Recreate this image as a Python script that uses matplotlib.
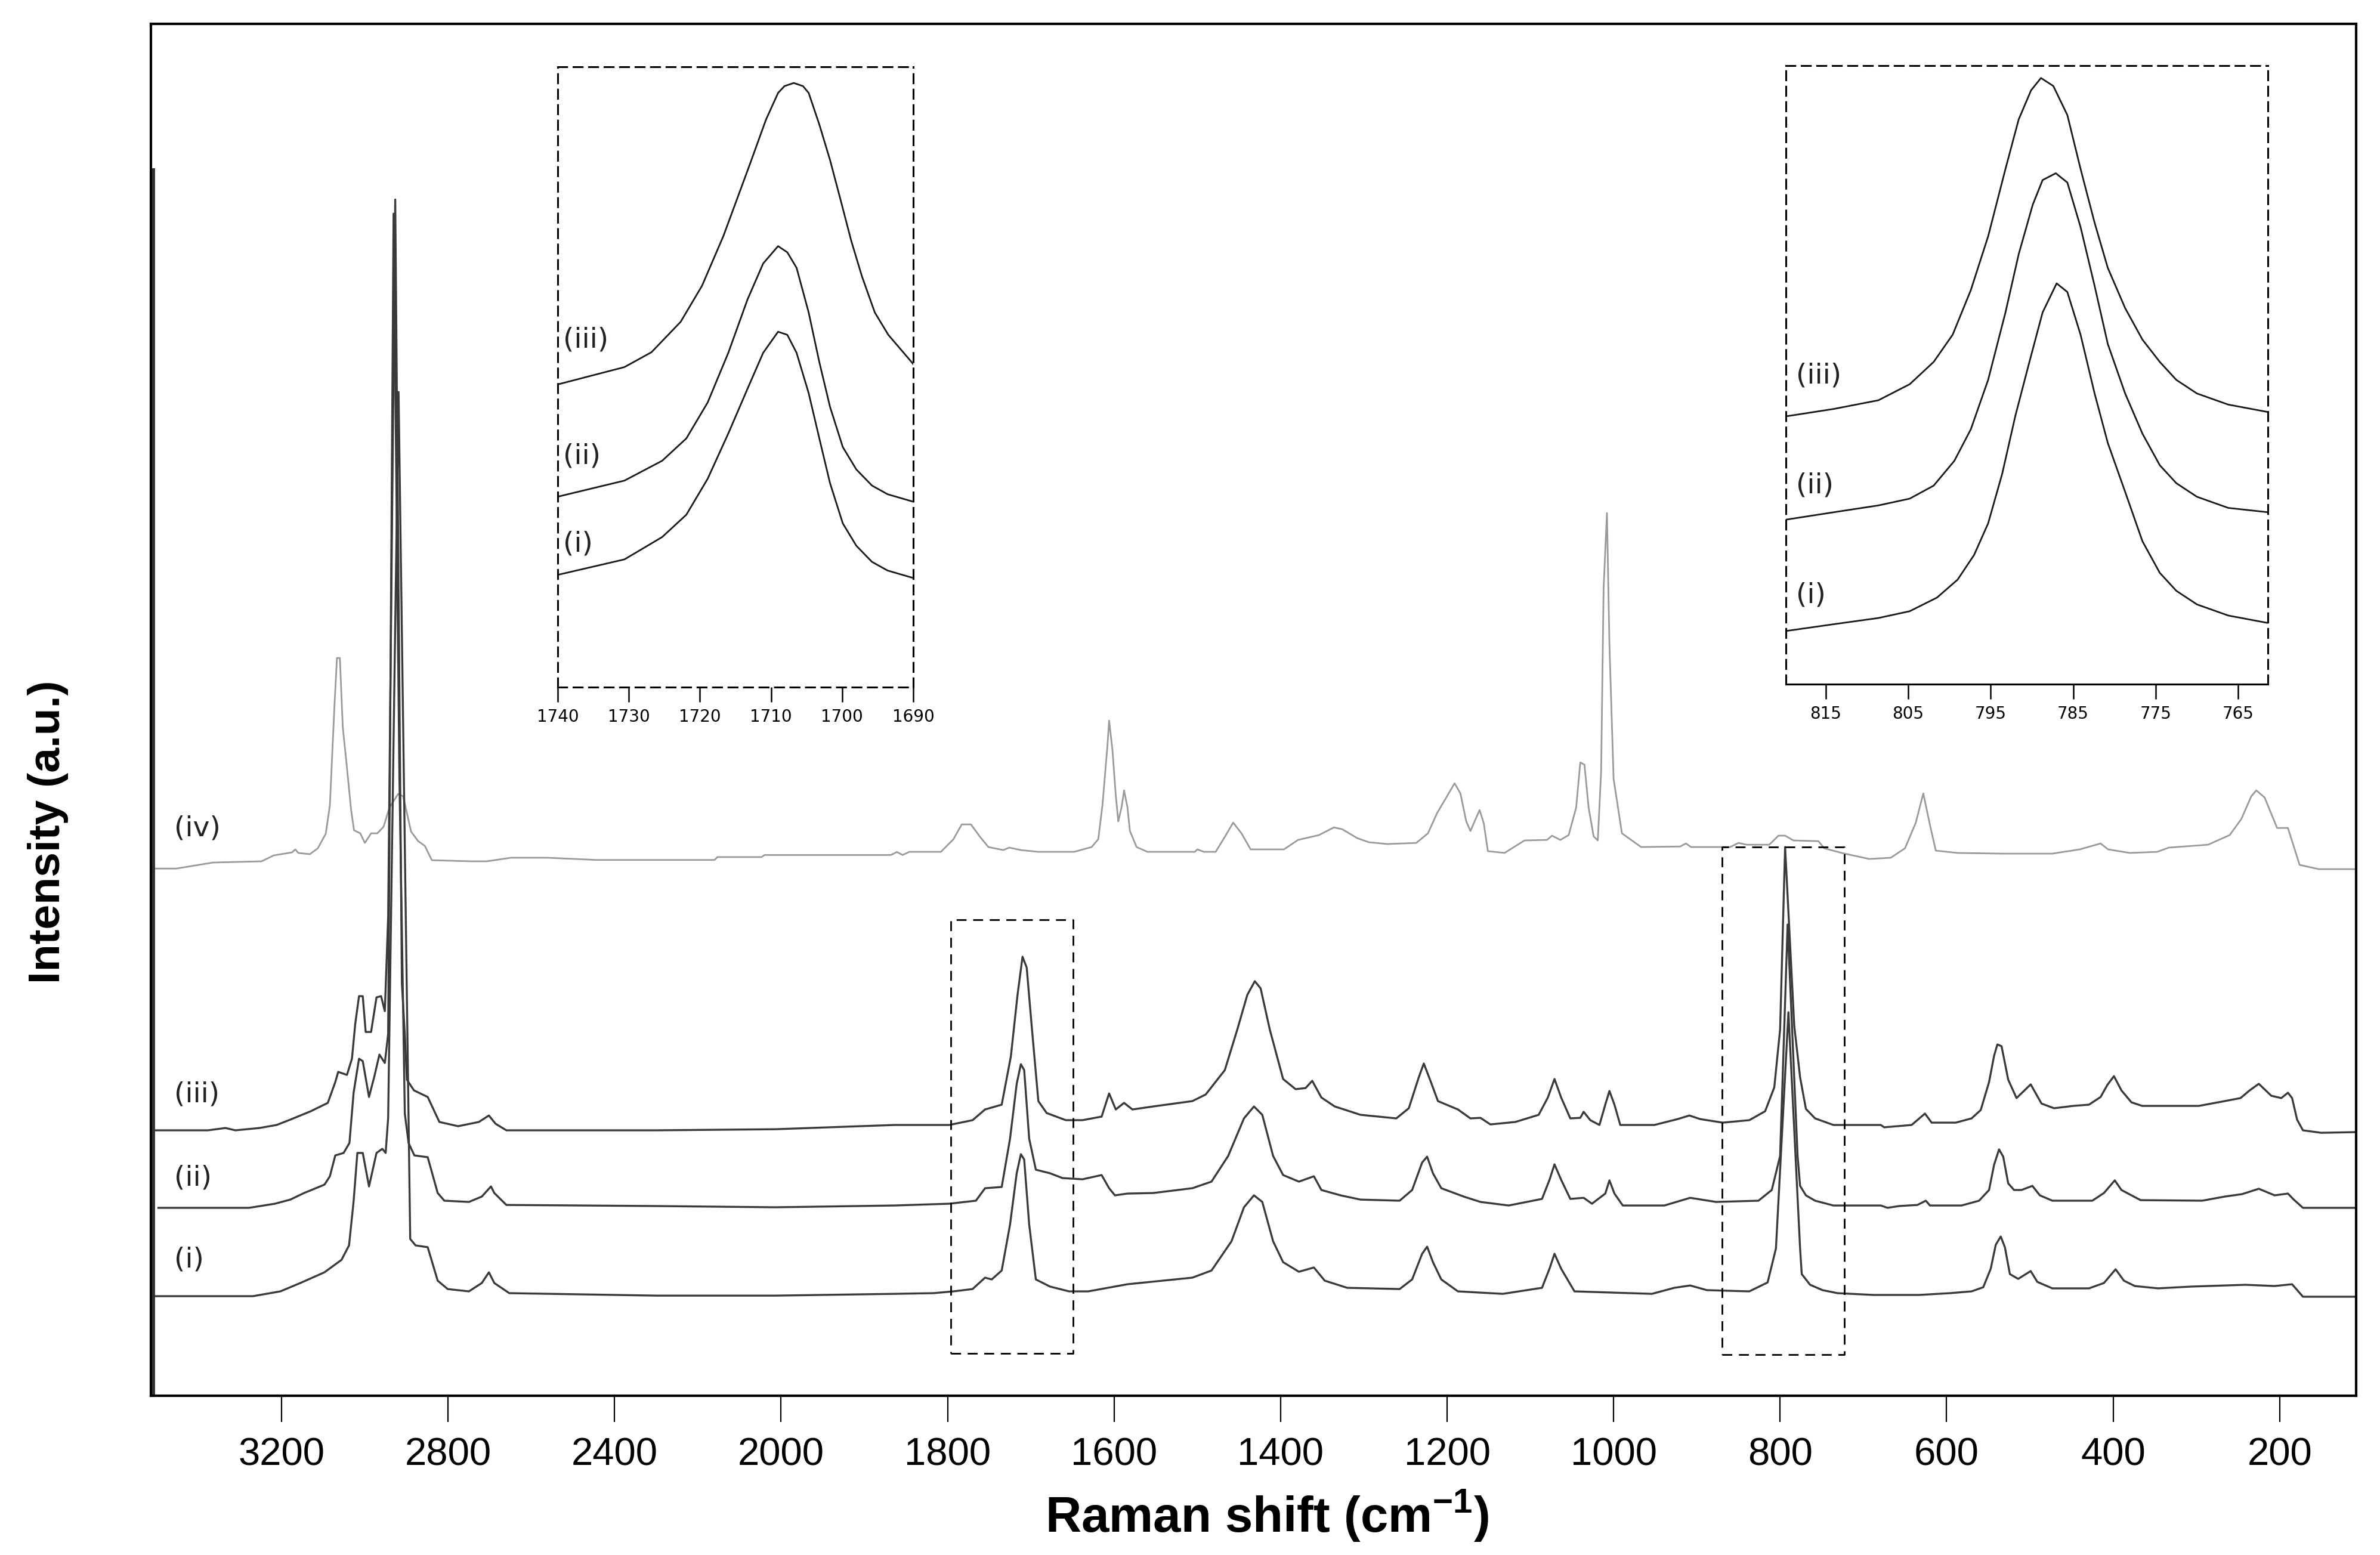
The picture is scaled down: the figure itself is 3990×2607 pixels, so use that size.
import numpy as np
import matplotlib
matplotlib.use("Agg")
import matplotlib.pyplot as plt

plt.rcParams['font.family'] = ['Liberation Sans', 'DejaVu Sans']
plt.rcParams['mathtext.fontset'] = 'custom'
plt.rcParams['mathtext.rm'] = 'Liberation Sans'
plt.rcParams['mathtext.bf'] = 'Liberation Sans:bold'

# ---- main spectra (Raman shift in cm-1, intensity in a.u.) ----
iv_wn = [3511, 3453, 3365, 3248, 3219, 3175, 3167, 3160, 3132, 3113, 3094, 3084, 3073, 3067,
         3060, 3053, 3043, 3033, 3026, 3011, 3000, 2985, 2970, 2955, 2941, 2930, 2920, 2908,
         2889, 2872, 2856, 2839, 2743, 2707, 2649, 2561, 2444, 2160, 2153, 2047, 2040, 1868,
         1861, 1854, 1846, 1808, 1793, 1783, 1772, 1761, 1751, 1733, 1726, 1712, 1691, 1648,
         1627, 1619, 1614, 1608, 1606, 1602, 1598, 1595, 1591, 1588, 1584, 1581, 1573, 1560,
         1503, 1500, 1492, 1478, 1467, 1457, 1447, 1436, 1396, 1379, 1354, 1336, 1326, 1308,
         1294, 1272, 1237, 1223, 1212, 1201, 1191, 1184, 1177, 1172, 1161, 1156, 1151, 1131,
         1107, 1080, 1074, 1064, 1054, 1045, 1040, 1035, 1030, 1024, 1019, 1015, 1012, 1008,
         1005, 1000, 990, 967, 920, 913, 907, 860, 850, 840, 813, 802, 794, 784, 754, 747,
         726, 693, 667, 650, 637, 628, 620, 613, 587, 533, 473, 440, 415, 406, 380, 347, 333,
         286, 260, 246, 234, 228, 218, 203, 190, 176, 153, 108]
iv_int = [38.43, 38.43, 38.87, 38.96, 39.39, 39.61, 39.83, 39.57, 39.48, 39.91, 40.96, 43.04,
          50.30, 53.78, 53.78, 48.74, 45.78, 42.70, 41.22, 41.00, 40.30, 41.00, 41.00, 41.48,
          42.87, 43.39, 43.87, 43.70, 41.13, 40.43, 40.09, 39.04, 38.96, 38.96, 39.22, 39.22,
          39.06, 39.06, 39.27, 39.27, 39.42, 39.42, 39.64, 39.42, 39.65, 39.65, 40.57, 41.65,
          41.65, 40.74, 40.00, 39.78, 39.96, 39.78, 39.65, 39.65, 40.00, 40.57, 43.04, 47.39,
          49.22, 47.09, 43.78, 41.87, 42.91, 44.13, 42.91, 41.17, 40.00, 39.65, 39.65, 39.83,
          39.65, 39.65, 40.74, 41.78, 41.00, 39.83, 39.83, 40.52, 40.87, 41.43, 41.30, 40.65,
          40.35, 40.22, 40.30, 41.00, 42.48, 43.61, 44.65, 43.91, 41.87, 41.17, 42.70, 41.74,
          39.70, 39.57, 40.48, 40.52, 40.83, 40.52, 40.87, 42.87, 46.17, 46.00, 42.87, 40.78,
          40.48, 45.48, 58.87, 64.35, 54.74, 44.96, 41.00, 40.00, 40.04, 40.26, 40.00, 40.00,
          40.30, 40.17, 40.17, 40.83, 40.83, 40.48, 40.43, 39.91, 39.57, 39.13, 39.22, 39.91,
          41.78, 43.91, 41.61, 39.74, 39.57, 39.52, 39.52, 39.83, 40.26, 39.83, 39.57, 39.65,
          39.96, 40.17, 40.87, 42.04, 43.70, 44.13, 43.61, 41.39, 41.39, 38.70, 38.39, 38.39]

iii_wn = [3504, 3377, 3335, 3311, 3253, 3212, 3179, 3130, 3089, 3071, 3064, 3043, 3031, 3023,
          3014, 3005, 2998, 2985, 2972, 2961, 2952, 2944, 2927, 2911, 2904, 2899, 2882, 2849,
          2821, 2776, 2726, 2702, 2686, 2660, 2300, 2014, 1864, 1798, 1770, 1755, 1735, 1724,
          1716, 1710, 1705, 1699, 1691, 1681, 1658, 1638, 1615, 1606, 1598, 1588, 1578, 1553,
          1506, 1490, 1467, 1452, 1440, 1431, 1424, 1413, 1397, 1382, 1370, 1362, 1351, 1335,
          1304, 1261, 1246, 1234, 1228, 1220, 1211, 1187, 1172, 1160, 1148, 1118, 1090, 1079,
          1071, 1063, 1052, 1040, 1036, 1028, 1017, 1010, 1005, 999, 992, 951, 923, 909, 896,
          869, 837, 818, 807, 800, 794, 783, 776, 769, 758, 736, 679, 675, 642, 626, 618, 589,
          570, 559, 549, 543, 539, 534, 526, 516, 499, 486, 471, 448, 429, 415, 407, 399, 390,
          378, 365, 297, 266, 247, 236, 225, 210, 198, 190, 185, 179, 172, 150, 108]
iii_int = [19.35, 19.35, 19.52, 19.35, 19.52, 19.74, 20.13, 20.74, 21.35, 22.87, 23.61, 23.39,
           24.57, 27.13, 29.13, 29.13, 26.52, 26.52, 29.04, 29.13, 28.04, 34.91, 87.20, 30.04,
           26.39, 23.04, 22.26, 21.78, 19.96, 19.65, 19.96, 20.43, 19.83, 19.35, 19.35, 19.43,
           19.74, 19.74, 20.09, 20.87, 21.22, 24.74, 29.22, 32.00, 31.22, 26.96, 21.48, 20.61,
           20.09, 20.09, 20.35, 22.04, 20.87, 21.35, 20.87, 21.09, 21.48, 21.96, 23.74, 26.70,
           29.22, 30.22, 29.70, 26.70, 23.09, 22.35, 22.43, 22.96, 21.74, 21.09, 20.48, 20.22,
           20.96, 23.22, 24.22, 22.96, 21.48, 20.87, 20.22, 20.26, 19.78, 19.96, 20.48, 21.74,
           23.09, 21.74, 20.22, 20.26, 20.70, 20.09, 19.74, 21.22, 22.22, 21.22, 19.74, 19.74,
           20.17, 20.43, 20.17, 19.91, 20.09, 20.74, 22.48, 26.70, 40.00, 26.96, 23.22, 20.91,
           20.22, 19.74, 19.74, 19.57, 19.74, 20.57, 19.91, 19.91, 20.22, 20.83, 22.87, 24.78,
           25.61, 25.48, 23.04, 21.70, 22.70, 21.30, 20.96, 21.13, 21.22, 21.78, 22.65, 23.30,
           22.26, 21.39, 21.13, 21.13, 21.48, 21.70, 22.26, 22.74, 21.87, 21.70, 22.09, 21.70,
           20.13, 19.35, 19.17, 19.22]

ii_wn = [3496, 3278, 3216, 3179, 3146, 3097, 3084, 3071, 3051, 3037, 3027, 3014, 3005, 2990,
         2977, 2965, 2952, 2944, 2931, 2917, 2904, 2895, 2881, 2849, 2825, 2809, 2750, 2719,
         2697, 2689, 2660, 2300, 2014, 1864, 1798, 1766, 1755, 1735, 1725, 1717, 1712, 1708,
         1702, 1694, 1677, 1662, 1638, 1615, 1606, 1599, 1584, 1553, 1506, 1483, 1463, 1444,
         1432, 1422, 1409, 1397, 1378, 1360, 1351, 1328, 1304, 1257, 1242, 1230, 1224, 1217,
         1207, 1180, 1160, 1126, 1086, 1077, 1071, 1063, 1052, 1036, 1026, 1010, 1005, 999,
         989, 939, 908, 877, 826, 810, 800, 791, 779, 776, 769, 758, 736, 679, 671, 657, 635,
         625, 620, 582, 561, 549, 543, 537, 532, 526, 519, 510, 497, 488, 473, 425, 411, 398,
         390, 367, 293, 266, 245, 225, 206, 190, 183, 172, 108]
ii_int = [13.70, 13.70, 14.00, 14.30, 14.78, 15.39, 16.00, 17.52, 17.70, 18.43, 22.09, 24.57,
          24.39, 21.78, 23.30, 24.87, 24.26, 26.39, 86.17, 45.20, 20.57, 18.43, 17.52, 17.39,
          14.78, 14.22, 14.13, 14.52, 15.26, 14.78, 13.91, 13.83, 13.74, 13.87, 14.00, 14.22,
          15.13, 15.22, 18.74, 22.74, 24.17, 23.74, 18.74, 16.48, 16.22, 15.87, 15.78, 16.09,
          15.13, 14.61, 14.74, 14.78, 15.13, 15.61, 17.48, 20.22, 21.09, 20.48, 17.48, 16.09,
          15.61, 16.00, 15.00, 14.61, 14.30, 14.22, 15.00, 17.00, 17.43, 16.22, 15.13, 14.52,
          14.13, 13.87, 14.35, 15.74, 16.87, 15.74, 14.35, 14.43, 14.00, 14.74, 15.70, 14.74,
          13.87, 13.87, 14.43, 14.13, 14.22, 15.00, 17.48, 34.35, 17.48, 15.30, 14.61, 14.22,
          13.87, 13.87, 13.70, 13.83, 13.91, 14.22, 13.87, 13.87, 14.22, 15.00, 16.83, 17.96,
          17.43, 15.48, 15.00, 15.00, 15.30, 14.61, 14.22, 14.22, 14.78, 15.70, 15.00, 14.26,
          14.22, 14.52, 14.70, 15.09, 14.61, 14.74, 14.30, 13.70, 13.70]

i_wn = [3504, 3269, 3203, 3155, 3097, 3056, 3038, 3027, 3018, 3005, 2990, 2972, 2958, 2950,
        2944, 2919, 2891, 2878, 2849, 2825, 2801, 2750, 2719, 2702, 2689, 2653, 2300, 2014,
        1864, 1817, 1793, 1770, 1755, 1747, 1735, 1725, 1717, 1712, 1708, 1702, 1694, 1677,
        1654, 1631, 1584, 1506, 1483, 1459, 1444, 1432, 1422, 1409, 1397, 1378, 1360, 1347,
        1320, 1257, 1242, 1230, 1224, 1217, 1207, 1187, 1133, 1086, 1077, 1071, 1063, 1047,
        954, 927, 908, 888, 837, 815, 805, 790, 776, 774, 764, 749, 731, 688, 633, 596, 570,
        556, 547, 541, 535, 530, 524, 514, 499, 491, 473, 429, 411, 397, 387, 374, 346, 306,
        241, 206, 185, 172, 108]
i_int = [7.26, 7.26, 7.61, 8.22, 9.00, 9.91, 10.96, 14.17, 17.70, 17.70, 15.26, 17.70, 18.00,
         17.70, 20.26, 73.17, 11.43, 10.96, 10.83, 8.39, 7.78, 7.61, 8.22, 9.00, 8.22, 7.48,
         7.30, 7.30, 7.43, 7.48, 7.61, 7.78, 8.61, 8.48, 9.13, 12.48, 16.22, 17.61, 17.22,
         12.48, 8.48, 7.96, 7.61, 7.61, 8.13, 8.61, 9.13, 11.26, 13.74, 14.61, 14.13, 11.26,
         9.74, 9.04, 9.35, 8.39, 7.87, 7.78, 8.48, 10.35, 10.87, 9.74, 8.48, 7.61, 7.43, 7.87,
         9.26, 10.35, 9.26, 7.61, 7.43, 7.87, 8.04, 7.70, 7.61, 8.26, 10.74, 27.96, 10.74,
         8.87, 8.09, 7.70, 7.48, 7.35, 7.35, 7.48, 7.61, 7.91, 9.26, 11.00, 11.61, 10.83, 8.87,
         8.52, 9.09, 8.30, 7.83, 7.83, 8.22, 9.22, 8.39, 8.00, 7.83, 7.96, 8.09, 8.00, 8.13,
         7.22, 7.22]

edge_wn = [3508, 3508]
edge_int = [0, 89.4]

# dashed zoom boxes on the main spectra: (wn_high, wn_low, int_low, int_high)
box_1710 = [1796, 1649, 3.1, 34.7]
box_790 = [870, 723, 3.0, 40.0]

main_ticks = [3200, 2800, 2400, 2000, 1800, 1600, 1400, 1200, 1000, 800, 600, 400, 200]
curve_labels = ['(iv)', '(iii)', '(ii)', '(i)']
curve_label_int = [41.35, 21.96, 15.87, 9.91]

# ---- inset around 1710 cm-1 ----
c1_iii_wn = [1740.0, 1730.6, 1726.8, 1722.7, 1719.7, 1716.7, 1713.0, 1710.7, 1709.0, 1708.1,
             1706.8, 1705.5, 1704.7, 1703.2, 1701.7, 1700.2, 1698.7, 1697.2, 1695.4, 1693.5,
             1690.0]
c1_iii_int = [48.8, 51.6, 54.0, 58.9, 64.7, 72.7, 84.2, 91.5, 95.8, 96.9, 97.4, 96.9, 95.8,
              90.7, 85.0, 78.5, 71.9, 66.2, 60.4, 56.8, 52.1]
c1_wn = [1740.0, 1730.6, 1725.3, 1721.9, 1718.9, 1716.0, 1713.3, 1711.1, 1709.0, 1707.7,
         1706.4, 1704.7, 1703.2, 1701.7, 1699.9, 1698.0, 1695.8, 1693.6, 1690.0]
c1_ii_int = [30.7, 33.3, 36.5, 40.1, 45.9, 53.9, 62.5, 68.3, 71.1, 70.1, 67.6, 60.4, 52.4,
             45.2, 38.7, 35.1, 32.5, 31.1, 29.9]
c1_i_int = [18.1, 20.6, 24.2, 27.8, 33.6, 40.9, 48.1, 53.9, 57.3, 56.8, 53.9, 47.4, 40.1,
            32.9, 26.4, 22.8, 20.2, 18.8, 17.6]
c1_ticks = [1740, 1730, 1720, 1710, 1700, 1690]
c1_label_int = [56.0, 37.2, 23.1]

# ---- inset around 790 cm-1 ----
c2_iii_wn = [819.8, 814.0, 808.6, 804.8, 801.9, 799.6, 797.4, 795.3, 793.2, 791.6, 790.1,
             788.9, 787.4, 785.7, 784.1, 782.4, 780.8, 778.7, 776.6, 774.5, 772.5, 770.0,
             766.2, 761.4]
c2_iii_int = [43.3, 44.5, 45.9, 48.5, 52.1, 56.5, 63.7, 72.4, 83.3, 91.3, 96.0, 98.0, 96.7,
              92.0, 83.3, 74.6, 67.3, 60.8, 55.7, 52.1, 49.2, 47.0, 45.2, 44.0]
c2_ii_wn = [819.8, 814.0, 808.6, 804.8, 801.9, 799.4, 797.4, 795.3, 793.2, 791.6, 789.9,
            788.7, 787.1, 785.7, 784.1, 782.4, 780.8, 778.7, 776.6, 774.5, 772.5, 770.0,
            766.2, 761.4]
c2_ii_int = [26.6, 27.8, 28.9, 30.0, 32.1, 36.1, 41.2, 49.2, 60.1, 69.5, 77.5, 81.5, 82.6,
             81.1, 73.9, 64.4, 55.0, 47.0, 40.5, 35.4, 32.5, 30.3, 28.5, 27.8]
c2_i_wn = [819.8, 814.0, 808.6, 804.8, 801.5, 799.0, 797.0, 795.3, 793.6, 792.0, 790.3,
           788.7, 787.0, 785.7, 784.1, 782.4, 780.8, 778.7, 776.6, 774.5, 772.5, 770.0,
           766.2, 761.4]
c2_i_int = [8.6, 9.7, 10.7, 11.8, 14.0, 16.9, 20.9, 26.0, 34.0, 43.4, 52.1, 60.1, 64.8, 63.4,
            56.5, 47.0, 39.0, 31.1, 23.1, 18.0, 15.1, 12.9, 11.1, 9.9]
c2_ticks = [815, 805, 795, 785, 775, 765]
c2_label_int = [49.9, 32.1, 14.4]


def fwd(w):
    w = np.asarray(w, dtype=float)
    return np.where(w > 2000, 2000 + (w - 2000) / 2.0, w)


def inv(t):
    t = np.asarray(t, dtype=float)
    return np.where(t > 2000, 2000 + 2.0 * (t - 2000), t)


fig = plt.figure(figsize=(39.9, 26.07), dpi=100)
ax = fig.add_axes([0.0634, 0.1024, 0.9266, 0.8822])
ax.set_xscale('function', functions=(fwd, inv))

dark = '#3a3a3a'
ax.plot(iv_wn, iv_int, color='#9a9a9a', lw=2.0, solid_joinstyle='round')
ax.plot(i_wn, i_int, color=dark, lw=2.4, solid_joinstyle='round')
ax.plot(ii_wn, ii_int, color=dark, lw=2.4, solid_joinstyle='round')
ax.plot(iii_wn, iii_int, color=dark, lw=2.4, solid_joinstyle='round')
ax.plot(edge_wn, edge_int, color='#303030', lw=3.5)

for b in (box_1710, box_790):
    ax.plot([b[0], b[1], b[1], b[0], b[0]], [b[2], b[2], b[3], b[3], b[2]],
            color='black', lw=2.0, ls=(0, (6, 4)))

for lab, yv in zip(curve_labels, curve_label_int):
    ax.text(3458, yv, lab, fontsize=34, family='DejaVu Sans', color='#222222',
            ha='left', va='center')

ax.set_xlim(3514, 108)
ax.set_ylim(0, 100)
ax.set_xticks(main_ticks)
ax.set_xticklabels([str(t) for t in main_ticks])
ax.set_yticks([])
ax.tick_params(axis='x', direction='out', length=32, width=1.6, labelsize=47, pad=18)
for s in ax.spines.values():
    s.set_linewidth(3.0)

ax.set_xlabel(r'Raman shift (cm$^{\mathregular{-1}}$)', fontsize=60, fontweight='bold')
ax.xaxis.set_label_coords(0.506, -0.067)
fig.text(0.0203, 0.465, 'Intensity (a.u.)', rotation=90, fontsize=54, fontweight='bold',
         ha='center', va='center')


def style_inset(a, ticks, solid_bottom):
    a.set_facecolor('none')
    a.set_ylim(0, 100)
    a.set_yticks([])
    a.set_xticks(ticks)
    a.set_xticklabels([str(t) for t in ticks])
    for name, s in a.spines.items():
        s.set_linewidth(2.2)
        if not (solid_bottom and name == 'bottom'):
            s.set_linestyle((0, (5, 3.5)))
    a.tick_params(axis='x', direction='out', length=18, width=1.8, labelsize=20, pad=8)
    for t in a.get_xticklabels():
        t.set_family('DejaVu Sans')


ax1 = fig.add_axes([0.2343, 0.5581, 0.1494, 0.3989])
ax1.plot(c1_iii_wn, c1_iii_int, color='#1a1a1a', lw=2.0, solid_joinstyle='round')
ax1.plot(c1_wn, c1_ii_int, color='#1a1a1a', lw=2.0, solid_joinstyle='round')
ax1.plot(c1_wn, c1_i_int, color='#1a1a1a', lw=2.0, solid_joinstyle='round')
ax1.set_xlim(1740, 1690)
style_inset(ax1, c1_ticks, False)
for lab, yv in zip(curve_labels[1:], c1_label_int):
    ax1.text(1739.2, yv, lab, fontsize=34, family='DejaVu Sans', color='#222222',
             ha='left', va='center')

ax2 = fig.add_axes([0.7504, 0.5600, 0.2025, 0.3978])
ax2.plot(c2_iii_wn, c2_iii_int, color='#1a1a1a', lw=2.0, solid_joinstyle='round')
ax2.plot(c2_ii_wn, c2_ii_int, color='#1a1a1a', lw=2.0, solid_joinstyle='round')
ax2.plot(c2_i_wn, c2_i_int, color='#1a1a1a', lw=2.0, solid_joinstyle='round')
ax2.set_xlim(819.8, 761.4)
style_inset(ax2, c2_ticks, True)
for lab, yv in zip(curve_labels[1:], c2_label_int):
    ax2.text(818.6, yv, lab, fontsize=34, family='DejaVu Sans', color='#222222',
             ha='left', va='center')

fig.savefig('out.png', dpi=100, facecolor='white')
